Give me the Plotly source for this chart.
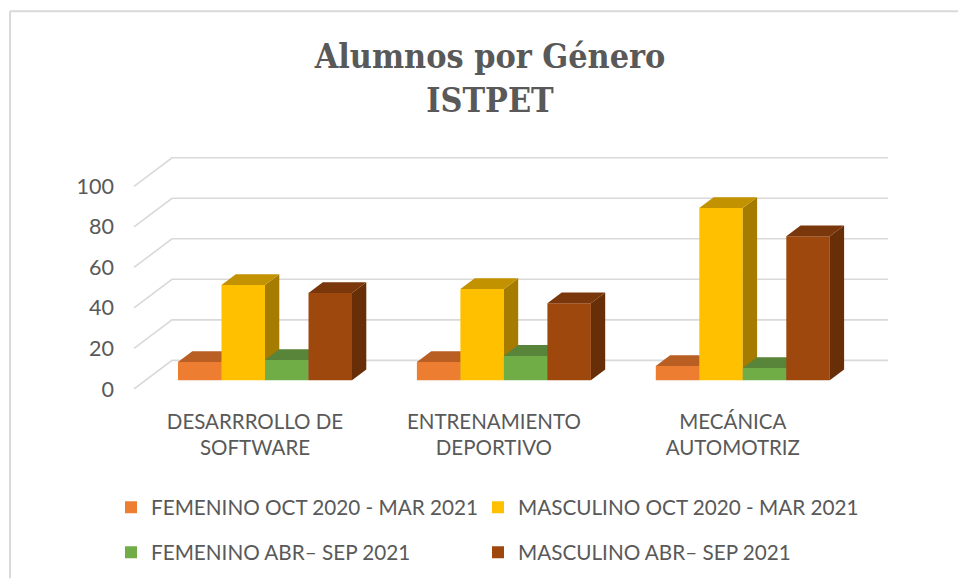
import plotly.graph_objects as go

categories = ["DESARRROLLO DE<br>SOFTWARE", "ENTRENAMIENTO<br>DEPORTIVO", "MECÁNICA<br>AUTOMOTRIZ"]
series_names = ["FEMENINO OCT 2020 - MAR 2021", "MASCULINO OCT 2020 - MAR 2021",
                "FEMENINO ABR– SEP 2021", "MASCULINO ABR– SEP 2021"]
fem_oct = [9, 9, 7]
masc_oct = [47, 45, 85]
fem_abr = [10, 12, 6]
masc_abr = [43, 38, 71]
y_ticks = [0, 20, 40, 60, 80, 100]

series_values = [fem_oct, masc_oct, fem_abr, masc_abr]
front_cols = ["#ED7D31", "#FFC000", "#70AD47", "#9E480E"]
top_cols = ["#B95F24", "#C29200", "#588539", "#7A370B"]
side_cols = ["#A05422", "#A67C00", "#4A7030", "#672E08"]

W, H = 958, 579
PX_L, PX_T, PX_B = 116, 130, 389.5      # plot area in pixels
GROUP_PX, CENTER_PX, UNIT_PX = 238.9, 265.0, 2.03


def xd(px):
    return (px - CENTER_PX) / GROUP_PX


bar_w = 43.5 / GROUP_PX
dep_x = 14.3 / GROUP_PX
dep_y = 10.8 / UNIT_PX
floor = 8.8 / UNIT_PX
wall_y = 28.7 / UNIT_PX
xr = [xd(PX_L), xd(W)]
yr = [0, (PX_B - PX_T) / UNIT_PX]

fig = go.Figure()

# gridlines: side wall + back wall
gx, gy = [], []
for t in y_ticks:
    gx += [xd(134), xd(172), xd(888), None]
    gy += [t, t + wall_y, t + wall_y, None]
fig.add_trace(go.Scatter(x=gx, y=gy, mode="lines", line=dict(color="#D9D9D9", width=1.6),
                         showlegend=False, hoverinfo="skip"))

positions = list(range(len(categories)))
legend_ids = ["legend", "legend2", "legend3", "legend4"]
for s, vals in enumerate(series_values):
    xa, ya = f"x{s + 2}", f"y{s + 2}"
    off = (s - 2) * bar_w
    fig.add_trace(go.Bar(x=positions, y=vals, base=[floor] * len(vals), width=bar_w, offset=off,
                         name=series_names[s], marker=dict(color=front_cols[s], line=dict(width=0)),
                         xaxis=xa, yaxis=ya, legend=legend_ids[s]))
    tx, ty, sx, sy = [], [], [], []
    for p, v in zip(positions, vals):
        l, r = p + off, p + off + bar_w
        top = floor + v
        tx += [l, r, r + dep_x, l + dep_x, l, None]
        ty += [top, top, top + dep_y, top + dep_y, top, None]
        sx += [r, r + dep_x, r + dep_x, r, r, None]
        sy += [top, top + dep_y, floor + dep_y, floor, top, None]
    fig.add_trace(go.Scatter(x=sx, y=sy, mode="lines", fill="toself", fillcolor=side_cols[s],
                             line=dict(width=0), showlegend=False, hoverinfo="skip", xaxis=xa, yaxis=ya))
    fig.add_trace(go.Scatter(x=tx, y=ty, mode="lines", fill="toself", fillcolor=top_cols[s],
                             line=dict(width=0), showlegend=False, hoverinfo="skip", xaxis=xa, yaxis=ya))

FONT = "Lato, Carlito, sans-serif"
TXT = "#595959"
LEG_FONT = dict(size=20.7, color=TXT)
layout = dict(
    width=W, height=H, autosize=False,
    margin=dict(l=PX_L, r=0, t=PX_T, b=H - PX_B, pad=0),
    paper_bgcolor="white", plot_bgcolor="rgba(0,0,0,0)",
    font=dict(family=FONT, color=TXT, size=20),
    title=dict(text="<b>Alumnos por Género<br>ISTPET</b>", x=490 / W, xanchor="center",
               y=1 - 68 / H, yanchor="middle",
               font=dict(family="DejaVu Serif Condensed, DejaVu Serif", size=33.8, color=TXT)),
    barmode="overlay",
    xaxis=dict(range=xr, tickmode="array", tickvals=[p - 10 / GROUP_PX for p in positions], ticktext=categories,
               showgrid=False, zeroline=False, showline=False, ticks="", tickfont=dict(size=20.5, color=TXT),
               ticklabelstandoff=18),
    yaxis=dict(range=yr, tickmode="array", tickvals=y_ticks, showgrid=False, zeroline=False, showline=False,
               ticks="", tickfont=dict(size=21.5, color=TXT), ticklabelstandoff=1),
    shapes=[
        dict(type="line", xref="paper", yref="paper", line=dict(color="#D9D9D9", width=2),
             x0=(10 - PX_L) / (W - PX_L), x1=1, y0=(PX_B - 11) / (PX_B - PX_T), y1=(PX_B - 11) / (PX_B - PX_T)),
        dict(type="line", xref="paper", yref="paper", line=dict(color="#D9D9D9", width=2),
             x0=(10 - PX_L) / (W - PX_L), x1=(10 - PX_L) / (W - PX_L),
             y0=(PX_B - H) / (PX_B - PX_T), y1=(PX_B - 11) / (PX_B - PX_T)),
    ],
)
for lid, lx, ly in zip(legend_ids, [111, 478, 111, 478], [488, 488, 533, 533]):
    layout[lid] = dict(orientation="h", x=(lx - PX_L) / (W - PX_L), y=(PX_B - ly) / (PX_B - PX_T),
                       xanchor="left", yanchor="top", font=LEG_FONT, bgcolor="rgba(0,0,0,0)")
for s in range(len(series_values)):
    layout[f"xaxis{s + 2}"] = dict(range=xr, overlaying="x", visible=False)
    layout[f"yaxis{s + 2}"] = dict(range=yr, overlaying="y", visible=False)
fig.update_layout(**layout)

fig.write_html("out.html", config={"displayModeBar": False},
               post_script="document.body.style.margin='0';document.body.style.overflow='hidden';")
